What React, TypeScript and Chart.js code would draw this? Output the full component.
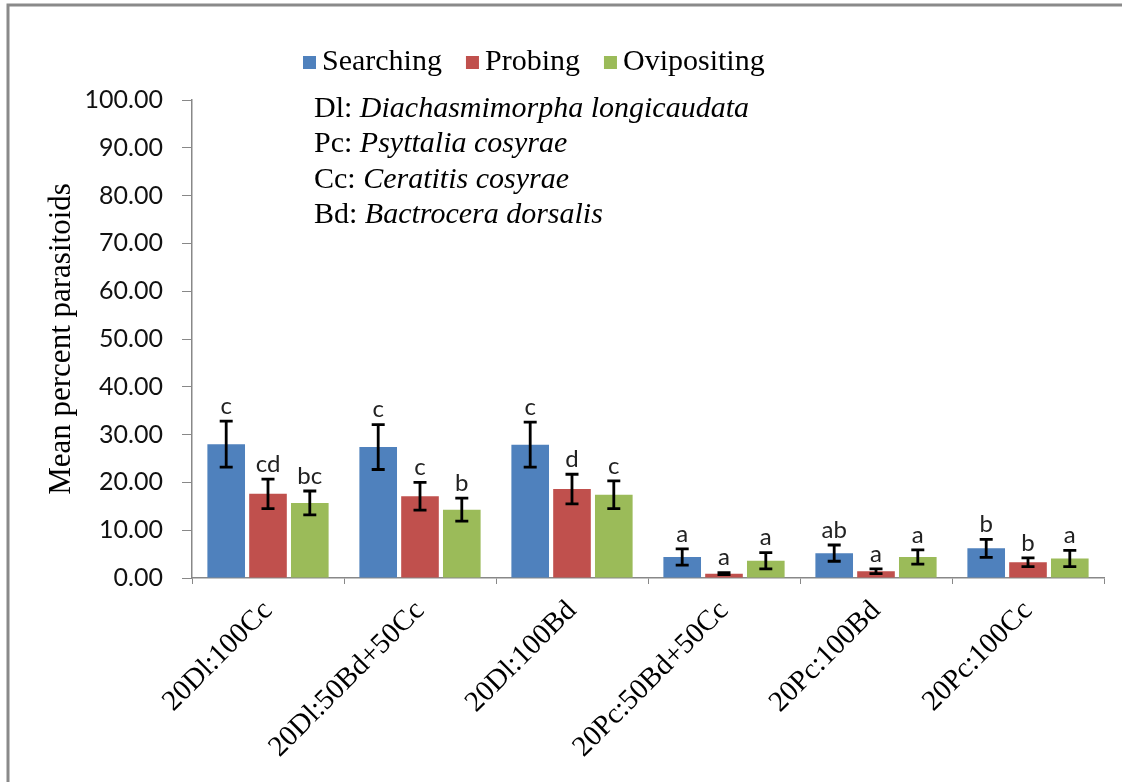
import React, { useEffect, useRef } from "react";
import { Chart, registerables } from "chart.js";

Chart.register(...registerables);

const categories = [
  "20Dl:100Cc",
  "20Dl:50Bd+50Cc",
  "20Dl:100Bd",
  "20Pc:50Bd+50Cc",
  "20Pc:100Bd",
  "20Pc:100Cc",
];
const seriesNames = ["Searching", "Probing", "Ovipositing"];

const searching = [28.0, 27.4, 27.9, 4.4, 5.2, 6.2];
const probing = [17.6, 17.1, 18.6, 0.9, 1.4, 3.3];
const ovipositing = [15.7, 14.3, 17.4, 3.6, 4.4, 4.1];

const searchingErr = [4.8, 4.7, 4.7, 1.7, 1.7, 1.9];
const probingErr = [3.1, 2.9, 3.1, 0.2, 0.5, 0.9];
const ovipositingErr = [2.5, 2.4, 2.9, 1.7, 1.5, 1.7];

const searchingLetters = ["c", "c", "c", "a", "ab", "b"];
const probingLetters = ["cd", "c", "d", "a", "a", "b"];
const ovipositingLetters = ["bc", "b", "c", "a", "a", "a"];

const noteAbbr = ["Dl: ", "Pc: ", "Cc: ", "Bd: "];
const noteNames = [
  "Diachasmimorpha longicaudata",
  "Psyttalia cosyrae",
  "Ceratitis cosyrae",
  "Bactrocera dorsalis",
];

const yMin = 0;
const yMax = 100;
const yStep = 10;

const colors = ["#4F81BD", "#C0504D", "#9BBB59"];
const SERIF = "'Liberation Serif', 'Times New Roman', serif";
const SANS = "Lato, 'Open Sans', sans-serif";

const allValues = [searching, probing, ovipositing];
const allErrs = [searchingErr, probingErr, ovipositingErr];
const allLetters = [searchingLetters, probingLetters, ovipositingLetters];

const framePlugin = {
  id: "frame",
  beforeDraw(chart: any) {
    const ctx = chart.ctx;
    ctx.save();
    ctx.fillStyle = "#ffffff";
    ctx.fillRect(0, 0, chart.width, chart.height);
    ctx.strokeStyle = "#8a8a8a";
    ctx.lineWidth = 3;
    ctx.beginPath();
    ctx.moveTo(8, chart.height);
    ctx.lineTo(8, 5);
    ctx.lineTo(chart.width, 5);
    ctx.stroke();
    ctx.restore();
  },
};

const errorBarPlugin = {
  id: "errorBars",
  afterDatasetsDraw(chart: any) {
    const ctx = chart.ctx;
    const yScale = chart.scales.y;
    ctx.save();
    chart.data.datasets.forEach((ds: any, i: number) => {
      const meta = chart.getDatasetMeta(i);
      meta.data.forEach((el: any, j: number) => {
        const v = ds.data[j];
        const e = allErrs[i][j];
        const x = el.x;
        const yt = yScale.getPixelForValue(v + e);
        const yb = yScale.getPixelForValue(Math.max(0, v - e));
        ctx.strokeStyle = "#000";
        ctx.lineWidth = 2.8;
        ctx.beginPath();
        ctx.moveTo(x, yt);
        ctx.lineTo(x, yb);
        ctx.moveTo(x - 6.5, yt);
        ctx.lineTo(x + 6.5, yt);
        ctx.moveTo(x - 6.5, yb);
        ctx.lineTo(x + 6.5, yb);
        ctx.stroke();
        ctx.fillStyle = "#222";
        ctx.font = `24px ${SANS}`;
        ctx.textAlign = "center";
        ctx.textBaseline = "bottom";
        ctx.fillText(allLetters[i][j], x, yt - 3);
      });
    });
    ctx.restore();
  },
};

const textPlugin = {
  id: "texts",
  afterDraw(chart: any) {
    const ctx = chart.ctx;
    ctx.save();
    // legend
    ctx.textBaseline = "middle";
    ctx.textAlign = "left";
    ctx.font = `30px ${SERIF}`;
    let x = 303;
    const ly = 62;
    seriesNames.forEach((name, i) => {
      ctx.fillStyle = colors[i];
      ctx.fillRect(x, ly - 6, 13, 13);
      ctx.fillStyle = "#000";
      ctx.fillText(name, x + 19, ly);
      x += 19 + ctx.measureText(name).width + 24;
    });
    // notes
    const nx = 314;
    noteAbbr.forEach((abbr, i) => {
      const y = 109 + i * 35.5;
      ctx.font = `30px ${SERIF}`;
      ctx.fillStyle = "#000";
      ctx.fillText(abbr, nx, y);
      const w = ctx.measureText(abbr).width;
      ctx.font = `italic 30px ${SERIF}`;
      ctx.fillText(noteNames[i], nx + w, y);
    });
    ctx.restore();
  },
};

export default function App() {
  const canvasRef = useRef<HTMLCanvasElement | null>(null);

  useEffect(() => {
    if (!canvasRef.current) return;
    const chart = new Chart(canvasRef.current, {
      type: "bar",
      data: {
        labels: categories,
        datasets: allValues.map((vals, i) => ({
          label: seriesNames[i],
          data: vals,
          backgroundColor: colors[i],
          borderWidth: 0,
          barPercentage: 0.9,
          categoryPercentage: 0.825,
        })),
      },
      options: {
        animation: false,
        responsive: true,
        maintainAspectRatio: false,
        layout: { padding: { top: 100, right: 18, left: 0, bottom: 0 } },
        plugins: {
          legend: { display: false },
          tooltip: { enabled: false },
        },
        scales: {
          x: {
            grid: {
              display: true,
              drawOnChartArea: false,
              drawTicks: true,
              tickLength: 6,
              color: "#888",
              offset: true,
            },
            border: { display: true, color: "#888", width: 1.5 },
            ticks: {
              minRotation: 45,
              maxRotation: 45,
              autoSkip: false,
              padding: 10,
              color: "#000",
              font: { family: SERIF, size: 29 },
            },
            afterFit: (s: any) => {
              s.height = 204;
            },
          },
          y: {
            min: yMin,
            max: yMax,
            ticks: {
              stepSize: yStep,
              padding: 19,
              color: "#111",
              font: { family: SANS, size: 25 },
              callback: (v: any) => Number(v).toFixed(2),
            },
            grid: {
              drawOnChartArea: false,
              drawTicks: true,
              tickLength: 10,
              color: "#888",
            },
            border: { display: true, color: "#888", width: 1.5 },
            title: {
              display: true,
              text: "Mean percent parasitoids",
              color: "#000",
              font: { family: SERIF, size: 31 },
              padding: { top: 43, bottom: 0 },
            },
            afterFit: (s: any) => {
              s.width = 192;
            },
          },
        },
      },
      plugins: [framePlugin, errorBarPlugin, textPlugin],
    } as any);
    return () => chart.destroy();
  }, []);

  return (
    <div
      style={{
        position: "fixed",
        left: 0,
        top: 0,
        width: 1122,
        height: 782,
        background: "#fff",
      }}
    >
      <canvas ref={canvasRef} />
    </div>
  );
}
